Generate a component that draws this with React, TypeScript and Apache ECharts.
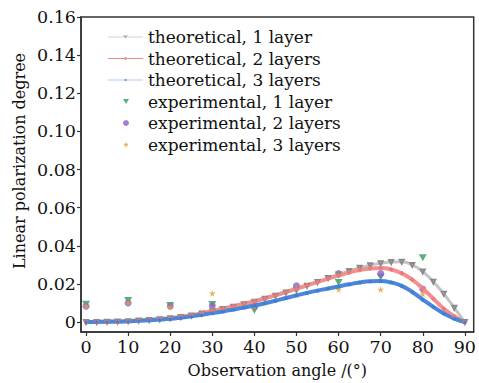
import React, { useEffect, useRef } from "react";
import * as echarts from "echarts";

const theoAngles = [0, 2.5, 5, 7.5, 10, 12.5, 15, 17.5, 20, 22.5, 25, 27.5, 30, 32.5, 35, 37.5, 40, 42.5, 45, 47.5, 50, 52.5, 55, 57.5, 60, 62.5, 65, 67.5, 70, 72.5, 75, 77.5, 80, 82.5, 85, 87.5, 90];
const theo1 = [0, 0.0001, 0.0002, 0.0003, 0.0005, 0.0008, 0.0011, 0.0015, 0.002, 0.0027, 0.0035, 0.0045, 0.0057, 0.0069, 0.0081, 0.0094, 0.0107, 0.0122, 0.0138, 0.0155, 0.0172, 0.0191, 0.021, 0.0231, 0.025, 0.0268, 0.0285, 0.0298, 0.0308, 0.0315, 0.0316, 0.03, 0.0265, 0.0212, 0.0148, 0.0075, 0];
const theo2 = [0, 0.0001, 0.0002, 0.0003, 0.0005, 0.0008, 0.0012, 0.0016, 0.0021, 0.0028, 0.0036, 0.0047, 0.0059, 0.0071, 0.0083, 0.0096, 0.0109, 0.0125, 0.0141, 0.0158, 0.0175, 0.0193, 0.021, 0.0228, 0.0244, 0.026, 0.0273, 0.0281, 0.0283, 0.0276, 0.0256, 0.0222, 0.0176, 0.0123, 0.007, 0.003, 0];
const theo3 = [0, 0.0001, 0.0002, 0.0003, 0.0004, 0.0007, 0.001, 0.0013, 0.0017, 0.0023, 0.003, 0.0038, 0.0047, 0.0056, 0.0066, 0.0076, 0.0087, 0.0099, 0.0112, 0.0126, 0.014, 0.0153, 0.0165, 0.0176, 0.0187, 0.0198, 0.0208, 0.0214, 0.0215, 0.0208, 0.019, 0.0158, 0.0118, 0.008, 0.0045, 0.0018, 0];

const expAngles = [0, 10, 20, 30, 40, 50, 60, 70, 80];
const exp1 = [0.0093, 0.0113, 0.0087, 0.0092, 0.0062, 0.0165, 0.0208, 0.0237, 0.0338];
const exp2 = [0.0083, 0.01, 0.0083, 0.0086, 0.0082, 0.019, 0.0254, 0.0254, 0.0173];
const exp3 = [0.0085, 0.0103, 0.008, 0.0151, 0.0081, 0.0144, 0.0171, 0.0171, 0.0147];

const xTicks = [0, 10, 20, 30, 40, 50, 60, 70, 80, 90];
const yTicks = [0, 0.02, 0.04, 0.06, 0.08, 0.1, 0.12, 0.14, 0.16];

const theoNames = ["theoretical, 1 layer", "theoretical, 2 layers", "theoretical, 3 layers"];
const expNames = ["experimental, 1 layer", "experimental, 2 layers", "experimental, 3 layers"];

const FONT = "DejaVu Serif";
const STAR = "path://M50,0 L61,35 L98,35 L68,57 L79,91 L50,70 L21,91 L32,57 L2,35 L39,35 Z";
const TRI_DOWN = "path://M0,0 L100,0 L50,87 Z";
const LEG_TRI = "path://M0,3.3 L31,3.3 L31,4.7 L0,4.7 Z M39,3.3 L70,3.3 L70,4.7 L39,4.7 Z M30,1 L40,1 L35,7 Z M0,0 L0.01,0 L0.01,0.01 Z M0,8 L0.01,8 L0.01,7.99 Z";
const LEG_DIA = "path://M0,3.2 L70,3.2 L70,4.8 L0,4.8 Z M35,0.5 L39,4 L35,7.5 L31,4 Z M0,0 L0.01,0 L0.01,0.01 Z M0,8 L0.01,8 L0.01,7.99 Z";
const LEG_DOT = "path://M0,3.3 L70,3.3 L70,4.7 L0,4.7 Z M33,2 L37,2 L37,6 L33,6 Z M0,0 L0.01,0 L0.01,0.01 Z M0,8 L0.01,8 L0.01,7.99 Z";

const zip = (xs: number[], ys: number[]) => xs.map((x, i) => [x, ys[i]]);

export default function App() {
  const ref = useRef<HTMLDivElement>(null);
  useEffect(() => {
    if (!ref.current) return;
    const chart = echarts.init(ref.current, null, { renderer: "svg" });
    const textStyle = { fontFamily: FONT, fontSize: 17, color: "#111", lineHeight: 20 };
    chart.setOption({
      animation: false,
      backgroundColor: "#ffffff",
      grid: {
        left: 81,
        right: 2,
        top: 17,
        bottom: 48,
        show: true,
        borderColor: "#333",
        borderWidth: 1.5,
      },
      graphic: [
        {
          type: "text",
          x: 19,
          y: 161,
          rotation: Math.PI / 2,
          style: {
            text: "Linear polarization degree",
            font: `16px "${FONT}"`,
            fill: "#111",
            align: "center",
            verticalAlign: "middle",
          },
        },
      ],
      legend: [
        {
          orient: "vertical",
          left: 108,
          top: 27,
          padding: 0,
          itemWidth: 35,
          itemHeight: 4,
          itemGap: 1.5,
          data: [
            { name: theoNames[0], icon: LEG_TRI, itemStyle: { color: "#a8a8a8", borderWidth: 0, borderColor: "transparent" } },
            { name: theoNames[1], icon: LEG_DIA, itemStyle: { color: "#f28a8a", borderWidth: 0 } },
            { name: theoNames[2], icon: LEG_DOT, itemStyle: { color: "#6d9be0", borderWidth: 0 } },
          ],
          textStyle,
        },
        {
          orient: "vertical",
          left: 123,
          top: 91.5,
          padding: 0,
          itemWidth: 6,
          itemHeight: 6,
          itemGap: 1.5,
          data: [
            { name: expNames[0], icon: TRI_DOWN },
            { name: expNames[1], icon: "circle" },
            { name: expNames[2], icon: STAR },
          ],
          textStyle: { ...textStyle, padding: [0, 0, 0, 14] },
        },
      ],
      xAxis: {
        type: "value",
        min: -1.2,
        max: 92.1,
        name: "Observation angle /(°)",
        nameLocation: "middle",
        nameGap: 30,
        nameTextStyle: { fontFamily: FONT, fontSize: 16, color: "#111" },
        splitLine: { show: false },
        axisLine: { onZero: false, lineStyle: { color: "#333", width: 1.5 } },
        axisTick: { customValues: xTicks, length: 4, lineStyle: { color: "#333", width: 1.2 } },
        axisLabel: {
          customValues: xTicks,
          margin: 6,
          fontFamily: FONT,
          fontSize: 17.5,
          color: "#111",
        },
      },
      yAxis: {
        type: "value",
        min: -0.0052,
        max: 0.16,
        splitLine: { show: false },
        axisLine: { onZero: false, lineStyle: { color: "#333", width: 1.5 } },
        axisTick: { customValues: yTicks, length: 4, lineStyle: { color: "#333", width: 1.2 } },
        axisLabel: {
          customValues: yTicks,
          margin: 5,
          fontFamily: FONT,
          fontSize: 17.5,
          color: "#111",
          formatter: (v: number) => (v === 0 ? "0" : v.toFixed(2)),
        },
      },
      series: [
        {
          name: theoNames[0],
          type: "line",
          data: zip(theoAngles, theo1),
          smooth: true,
          symbol: "emptyTriangle",
          symbolRotate: 180,
          symbolSize: 4,
          color: "#8a8a8a",
          lineStyle: { color: "#c4c4c4", width: 3 },
          itemStyle: { color: "#8a8a8a", borderColor: "#8a8a8a", borderWidth: 0.8 },
        },
        {
          name: theoNames[1],
          type: "line",
          data: zip(theoAngles, theo2),
          smooth: true,
          symbol: "diamond",
          symbolSize: 5,
          color: "#f07878",
          lineStyle: { color: "#f29090", width: 4 },
          itemStyle: { color: "#f07878" },
        },
        {
          name: theoNames[2],
          type: "line",
          data: zip(theoAngles, theo3),
          smooth: true,
          symbol: STAR,
          symbolSize: 5,
          color: "#3a7bd5",
          lineStyle: { color: "#4a86da", width: 4 },
          itemStyle: { color: "#3a7bd5" },
        },
        {
          name: expNames[0],
          type: "scatter",
          data: zip(expAngles, exp1),
          symbol: TRI_DOWN,
          symbolSize: [8, 7],
          itemStyle: { color: "#2e9e5b" },
        },
        {
          name: expNames[1],
          type: "scatter",
          data: zip(expAngles, exp2),
          symbol: "circle",
          symbolSize: 7,
          itemStyle: { color: "#8b62c9" },
        },
        {
          name: expNames[2],
          type: "scatter",
          data: zip(expAngles, exp3),
          symbol: STAR,
          symbolSize: 7,
          itemStyle: { color: "#e3a030" },
        },
      ],
    });
    return () => chart.dispose();
  }, []);
  return <div ref={ref} style={{ width: 479, height: 383, position: "absolute", left: 0, top: 0 }} />;
}
